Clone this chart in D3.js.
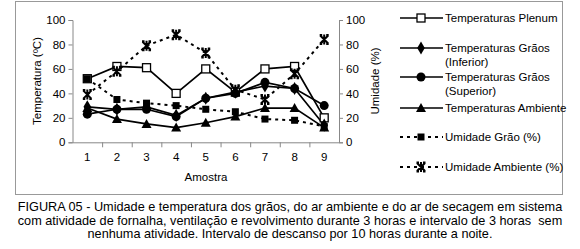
<!DOCTYPE html>
<html>
<head>
<meta charset="utf-8">
<script src="https://cdn.jsdelivr.net/npm/d3@7"></script>
<style>
  body { margin: 0; background: #fff; }
  text { font-family: "Liberation Sans", Arial, sans-serif; fill: #000; }
</style>
</head>
<body>
<div id="chart"></div>
<script>
/* Umidade e temperatura - figura 05 */

const amostras = ["1", "2", "3", "4", "5", "6", "7", "8", "9"];
const tempPlenum = [52, 62, 61, 40, 60, 41, 60, 62, 20];
const tempInferior = [29, 27, 29, 22, 36, 41, 46, 44, 14];
const tempSuperior = [23, 27, 27, 21, 36, 40, 49, 44, 30];
const tempAmbiente = [28, 19, 15, 12, 16, 21, 28, 28, 12];
const umidGrao = [52, 35, 32, 30, 27, 25, 19, 18, 13];
const umidAmbiente = [39, 58, 79, 88, 73, 43, 35, 56, 84];
const yTicks = [0, 20, 40, 60, 80, 100];

const series = [
  { name: ["Temperaturas Plenum"], values: tempPlenum, symbol: "square-open", dash: null, ly: 18 },
  { name: ["Temperaturas Grãos", "(Inferior)"], values: tempInferior, symbol: "diamond", dash: null, ly: 48 },
  { name: ["Temperaturas Grãos", "(Superior)"], values: tempSuperior, symbol: "circle", dash: null, ly: 77 },
  { name: ["Temperaturas Ambiente"], values: tempAmbiente, symbol: "triangle", dash: null, ly: 108 },
  { name: ["Umidade Grão (%)"], values: umidGrao, symbol: "square", dash: "3,4", ly: 137 },
  { name: ["Umidade Ambiente (%)"], values: umidAmbiente, symbol: "star", dash: "3,4", ly: 167 }
];

const width = 580, height = 249;
const plotLeft = 72.5, plotRight = 339, plotTop = 20, plotBottom = 142.3;

const svg = d3.select("#chart")
  .append("svg")
  .attr("width", width)
  .attr("height", height);

// moldura
svg.append("rect")
  .attr("x", 15.5).attr("y", 1.5)
  .attr("width", 547).attr("height", 193)
  .attr("fill", "none")
  .attr("stroke", "#999")
  .attr("stroke-width", 1);

const xBand = d3.scaleBand().domain(amostras).range([plotLeft, plotRight]);
const x = d => xBand(d) + xBand.bandwidth() / 2;
const y = d3.scaleLinear().domain([0, 100]).range([plotBottom, plotTop]);

// eixo esquerdo
const yLeft = svg.append("g")
  .attr("transform", `translate(${plotLeft},0)`)
  .call(d3.axisLeft(y).tickValues(yTicks).tickSize(4).tickPadding(3));
yLeft.selectAll("text").attr("font-size", 11.5).attr("font-family", "Liberation Sans, Arial");

// eixo direito
const yRight = svg.append("g")
  .attr("transform", `translate(${plotRight},0)`)
  .call(d3.axisRight(y).tickValues(yTicks).tickSize(4).tickPadding(3));
yRight.selectAll("text").attr("font-size", 11.5).attr("font-family", "Liberation Sans, Arial");

// eixo x
const xAxis = svg.append("g")
  .attr("transform", `translate(0,${plotBottom})`)
  .call(d3.axisBottom(xBand).tickSize(0).tickPadding(11));
xAxis.selectAll("text").attr("font-size", 11.5).attr("font-family", "Liberation Sans, Arial");
xAxis.selectAll("line.edge")
  .data(amostras.slice(1))
  .join("line")
  .attr("class", "edge")
  .attr("x1", d => xBand(d) + 0.5).attr("x2", d => xBand(d) + 0.5)
  .attr("y1", 0).attr("y2", 5);

svg.selectAll(".domain, line").attr("stroke", "#888");

// títulos dos eixos
svg.append("text")
  .attr("transform", "translate(41,81) rotate(-90)")
  .attr("text-anchor", "middle")
  .attr("font-size", 11.5)
  .text("Temperatura (ºC)");

svg.append("text")
  .attr("transform", "translate(379,81) rotate(-90)")
  .attr("text-anchor", "middle")
  .attr("font-size", 11.5)
  .text("Umidade (%)");

svg.append("g")
  .attr("transform", "translate(206,181)")
  .append("text")
  .attr("text-anchor", "middle")
  .attr("font-size", 11.5)
  .text("Amostra");

function drawSymbol(g, type) {
  if (type === "square-open") {
    g.append("rect").attr("x", -4).attr("y", -4).attr("width", 8).attr("height", 8)
      .attr("fill", "#fff").attr("stroke", "#000").attr("stroke-width", 1.3);
  } else if (type === "square") {
    g.append("rect").attr("x", -3.5).attr("y", -3.5).attr("width", 7).attr("height", 7)
      .attr("fill", "#000");
  } else if (type === "diamond") {
    g.append("path").attr("d", d3.symbol(d3.symbolDiamond, 50)()).attr("fill", "#000");
  } else if (type === "circle") {
    g.append("circle").attr("r", 4.5).attr("fill", "#000");
  } else if (type === "triangle") {
    g.append("path").attr("d", "M0,-5L5,4L-5,4Z").attr("fill", "#000");
  } else if (type === "star") {
    g.append("path").attr("d", "M-4,-4L4,4M4,-4L-4,4M0,-5L0,5M-4.5,-4.5L-2,-4.5M2,-4.5L4.5,-4.5M-4.5,4.5L-2,4.5M2,4.5L4.5,4.5")
      .attr("stroke", "#000").attr("stroke-width", 2).attr("fill", "none");
  }
}

const lineGen = d3.line()
  .x((d, i) => x(amostras[i]))
  .y(d => y(d));

// linhas
for (let s of series) {
  svg.append("path")
    .datum(s.values)
    .attr("fill", "none")
    .attr("stroke", "#000")
    .attr("stroke-width", s.dash ? 2 : 1.7)
    .attr("stroke-dasharray", s.dash)
    .attr("d", lineGen);
}

// marcadores
for (let s of series) {
  svg.append("g")
    .selectAll("g")
    .data(s.values)
    .join("g")
    .attr("transform", (d, i) => `translate(${x(amostras[i])},${y(d)})`)
    .each(function () { drawSymbol(d3.select(this), s.symbol); });
}

// legenda
const legend = svg.append("g");
for (let s of series) {
  const item = legend.append("g").attr("transform", `translate(0,${s.ly})`);
  item.append("line")
    .attr("x1", 400).attr("x2", 443)
    .attr("stroke", "#000")
    .attr("stroke-width", s.dash ? 2 : 1.5)
    .attr("stroke-dasharray", s.dash);
  const m = item.append("g").attr("transform", "translate(421,0)");
  drawSymbol(m, s.symbol);
  item.append("text")
    .attr("font-size", 11.5)
    .selectAll("tspan")
    .data(s.name)
    .join("tspan")
    .attr("x", 445)
    .attr("y", (d, i) => i * 14 + 4)
    .text(d => d);
}

// legenda da figura
const caption = [
  "FIGURA 05 - Umidade e temperatura dos grãos, do ar ambiente e do ar de secagem em sistema",
  "com atividade de fornalha, ventilação e revolvimento durante 3 horas e intervalo de 3 horas\u00a0 sem",
  "nenhuma atividade. Intervalo de descanso por 10 horas durante a noite."
];
svg.append("g")
  .selectAll("text")
  .data(caption)
  .join("text")
  .attr("text-anchor", "middle")
  .attr("font-size", 12.7)
  .attr("x", 290)
  .attr("y", (d, i) => 211 + i * 13.5)
  .text(d => d);
</script>
</body>
</html>
